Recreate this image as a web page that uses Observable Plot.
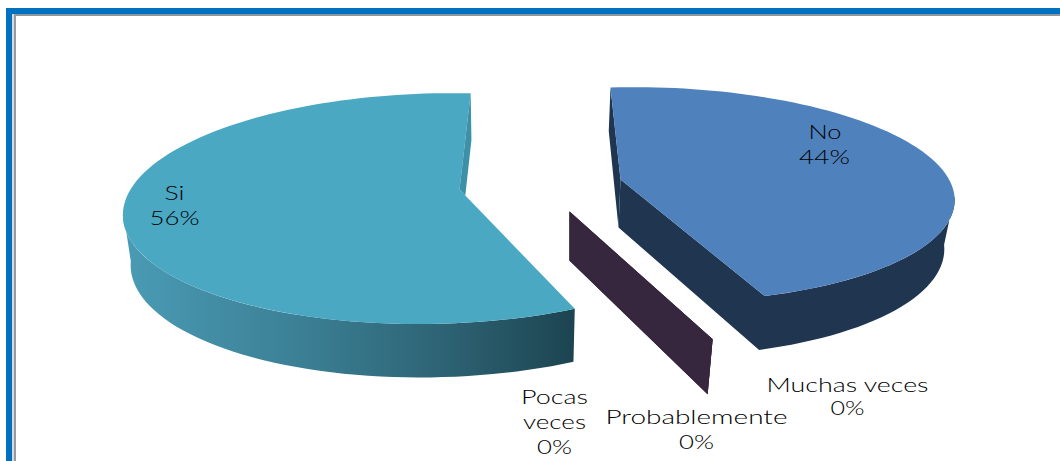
<!DOCTYPE html>
<html lang="es">
<head>
<meta charset="utf-8">
<title>Si / No</title>
<script src="https://cdn.jsdelivr.net/npm/d3@7"></script>
<script src="https://cdn.jsdelivr.net/npm/@observablehq/plot@0.6"></script>
<style>
  html, body { margin: 0; padding: 0; background: #fff; }
  svg { display: block; }
</style>
</head>
<body>
<div id="chart"></div>
<script>
// Survey answers, clockwise from twelve o'clock
const categories = ["No", "Muchas veces", "Probablemente", "Pocas veces", "Si"];
const percents = [44, 0, 0, 0, 56];

// Where each label line sits: [text, category index, x, baseline y, drawn width]
const nameLines = [
  ["No", 0, 824.5, 138, 33],
  ["Muchas veces", 1, 847, 391, 162],
  ["Probablemente", 2, 696, 423, 182],
  ["Pocas", 3, 554, 403, 67],
  ["veces", 3, 554, 428, 63],
  ["Si", 4, 174, 199, 20]
];
const percentLines = [
  [0, 824, 163, 51],
  [1, 847, 414, 34],
  [2, 696, 448, 35],
  [3, 554, 453, 35],
  [4, 174, 224, 50]
];

// Perspective of each exploded wedge on the page
const wedgeViews = {
  No:   {cx: 620, cy: 179, a: 299, s: 11.4, b: 104.9, m: -0.09, k: 0.14, depth: 48, shift: -2, sx: 0.975, sy: 1.05},
  Si:   {cx: 459, cy: 189, a: 306, s: -13, b: 112, m: 0.07, k: 0.165, depth: 49.4, shift: 1, sx: 0.98, sy: 1.03},
  zero: {cx: 569, cy: 211, a: 331, s: 0, b: 117, m: 0, k: 0.16, depth: 49, shift: 0, sx: 0.965, sy: 1.047}
};

const colors = {
  No: "#4f81bd", NoWall: "#1f3550", Si: "#4aa8c3", SiCut: "#3c90a8", zero: "#36273f",
  label: "#000000", frame: "#0070c0", frameShade: "#8c96a0", frameLight: "#d5dbe0"
};

// Frame bands along the top and left of the page
const frameBands = [
  {x1: 6, x2: 1060, y1: 8, y2: 14, fill: colors.frame},
  {x1: 6, x2: 12, y1: 8, y2: 461, fill: colors.frame},
  {x1: 13, x2: 1060, y1: 14, y2: 16, fill: colors.frameShade},
  {x1: 12, x2: 14, y1: 14, y2: 461, fill: colors.frameLight},
  {x1: 14, x2: 16, y1: 14, y2: 461, fill: "#9a9a9a"}
];

const rad = (deg) => (deg * Math.PI) / 180;

// Maps a point of the pie (angle, radius) to the page, on the upper or lower rim
function project(view, angle, radius, lower) {
  const u = radius * Math.sin(rad(angle));
  const v = -radius * Math.cos(rad(angle));
  const w = 1 + view.m * u - view.k * v;
  const dx = (view.a * u + view.s * v) / w;
  const dy = (view.b * v) / w;
  return lower
    ? [view.cx + view.shift + dx * view.sx, view.cy + view.depth + dy * view.sy]
    : [view.cx + dx, view.cy + dy];
}

function arc(view, from, to, lower) {
  const n = Math.max(2, Math.ceil(Math.abs(to - from) / 2));
  return d3.range(n + 1).map((i) => project(view, from + ((to - from) * i) / n, 1, lower));
}

// Angular extent of every category, taken from its share
let running = 0;
const extents = percents.map((p) => {
  const start = running;
  running += (p / 100) * 360;
  return {start, end: running};
});
const noExtent = extents[categories.indexOf("No")];
const siExtent = extents[categories.indexOf("Si")];
const noView = wedgeViews.No;
const siView = wedgeViews.Si;

const apex = (view, lower) => project(view, 0, 0, lower);

function crossing([a, b], [c, d]) {
  const t = ((a[0] - c[0]) * (c[1] - d[1]) - (a[1] - c[1]) * (c[0] - d[0])) /
            ((a[0] - b[0]) * (c[1] - d[1]) - (a[1] - b[1]) * (c[0] - d[0]));
  return [a[0] + t * (b[0] - a[0]), a[1] + t * (b[1] - a[1])];
}

// "No" wedge: cut face at the back, then near cut and outer wall, then top
const noBackCut = [
  project(noView, noExtent.start, 1), apex(noView),
  apex(noView, true), project(noView, noExtent.start, 1, true)
];
const noWall = [
  apex(noView),
  ...arc(noView, noExtent.end, 98),
  ...arc(noView, 98, noExtent.end, true),
  apex(noView, true)
];
const noTop = [apex(noView), ...arc(noView, noExtent.start, noExtent.end)];

// "Si" wedge: outer wall, top, then the sliver of the far cut seen past the top
const siWall = [...arc(siView, siExtent.start, 260), ...arc(siView, 260, siExtent.start, true)];
const siTop = [apex(siView), ...arc(siView, siExtent.start, siExtent.end)];
const siRimTop = project(siView, siExtent.end, 1);
const siRimLow = project(siView, siExtent.end, 1, true);
const siCut = [
  siRimTop, apex(siView),
  crossing([apex(siView), project(siView, siExtent.start, 1)], [siRimLow, apex(siView, true)]),
  siRimLow
];

// Wedges with a zero share collapse to a single upright sheet
const zeroSheets = extents
  .filter((_, i) => percents[i] === 0)
  .map(({start}) => [
    project(wedgeViews.zero, start, 0), project(wedgeViews.zero, start, 1),
    project(wedgeViews.zero, start, 1, true), project(wedgeViews.zero, start, 0, true)
  ]);

const polygon = (points, fill) =>
  Plot.line(points, {x: (d) => d[0], y: (d) => d[1], fill, stroke: "none", curve: "linear"});

// Shading across the curved wall of the "Si" wedge
function wallGradient() {
  const defs = d3.create("svg:defs");
  const gradient = defs.append("linearGradient").attr("id", "si-wall");
  [[0, "#4a9bb5"], [0.4, "#3b7f94"], [0.72, "#2d6273"], [1, "#1c4450"]].forEach(([offset, color]) =>
    gradient.append("stop").attr("offset", offset).attr("stop-color", color));
  return defs.node();
}

// Label lines are stretched to their drawn width
const labelText = (rows, text) =>
  Plot.text(rows, {
    x: (d) => d.x,
    y: (d) => d.y,
    text,
    fontFamily: "Lato, 'Open Sans', sans-serif",
    fontSize: 19,
    fontWeight: 300,
    fill: colors.label,
    textAnchor: "middle",
    lineAnchor: "bottom",
    render(index, scales, values, dimensions, context, next) {
      const g = next(index, scales, values, dimensions, context);
      d3.select(g).selectAll("text").each(function (i) {
        this.setAttribute("textLength", rows[i].width);
        this.setAttribute("lengthAdjust", "spacingAndGlyphs");
      });
      return g;
    }
  });

const nameRows = nameLines.map(([text, , x, y, width]) => ({text, x, y, width}));
const percentRows = percentLines.map(([i, x, y, width]) => ({text: `${percents[i]}%`, x, y, width}));

const chart = Plot.plot({
  width: 1060,
  height: 461,
  margin: 0,
  style: {background: "#fff"},
  x: {domain: [0, 1060], range: [0, 1060], axis: null},
  y: {domain: [0, 461], range: [0, 461], axis: null},
  marks: [
    wallGradient,
    Plot.rect(frameBands, {x1: "x1", x2: "x2", y1: "y1", y2: "y2", fill: (d) => d.fill}),
    polygon(siWall, "url(#si-wall)"),
    polygon(siTop, colors.Si),
    polygon(siCut, colors.SiCut),
    ...zeroSheets.map((sheet) => polygon(sheet, colors.zero)),
    polygon(noBackCut, colors.NoWall),
    polygon(noWall, colors.NoWall),
    polygon(noTop, colors.No),
    labelText(nameRows, "text"),
    labelText(percentRows, "text")
  ]
});

document.getElementById("chart").append(chart);
</script>
</body>
</html>
